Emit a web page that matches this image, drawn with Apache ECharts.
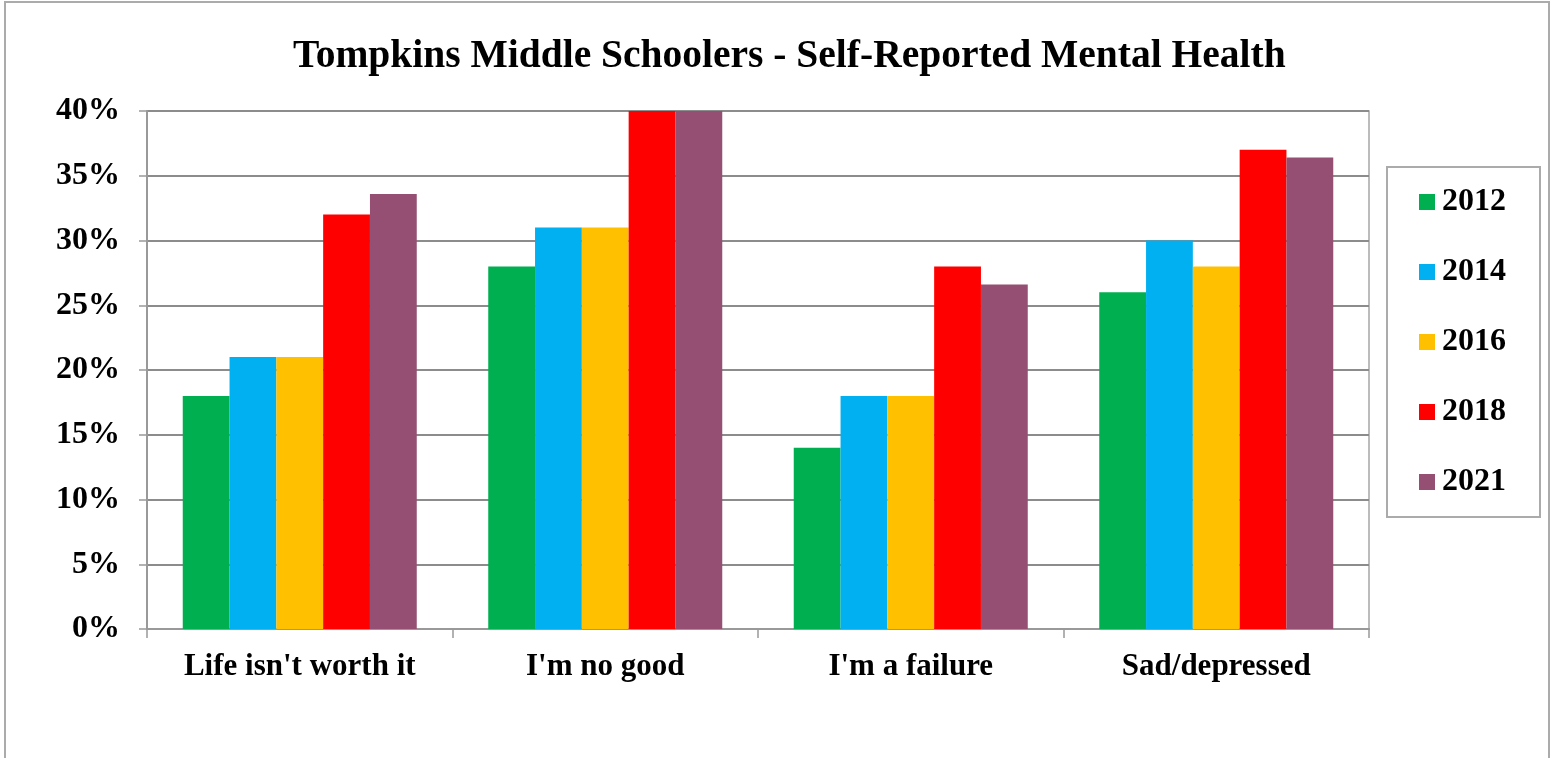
<!DOCTYPE html>
<html>
<head>
<meta charset="utf-8">
<script src="https://cdn.jsdelivr.net/npm/echarts@6/dist/echarts.min.js"></script>
<style>
html,body{margin:0;padding:0;background:#fff;}
#c{width:1554px;height:758px;}
</style>
</head>
<body>
<div id="c"></div>
<script>
var titleText = 'Tompkins Middle Schoolers - Self-Reported Mental Health';
var categories = ["Life isn't worth it", "I'm no good", "I'm a failure", "Sad/depressed"];
var seriesNames = ['2012', '2014', '2016', '2018', '2021'];
var v2012 = [18, 28, 14, 26];
var v2014 = [21, 31, 18, 30];
var v2016 = [21, 31, 18, 28];
var v2018 = [32, 40, 28, 37];
var v2021 = [33.6, 40, 26.6, 36.4];
var yTicks = [0, 5, 10, 15, 20, 25, 30, 35, 40];
var colors = ['#00b050', '#00b0f0', '#ffc000', '#ff0000', '#954f72'];

var allValues = [v2012, v2014, v2016, v2018, v2021];
var FONT = 'Liberation Serif';

var chart = echarts.init(document.getElementById('c'), null, {renderer: 'canvas'});
chart.setOption({
  animation: false,
  backgroundColor: '#fff',
  color: colors,
  graphic: [{
    type: 'rect',
    shape: {x: 5, y: 2, width: 1544, height: 820},
    style: {fill: 'none', stroke: '#ababab', lineWidth: 2},
    silent: true
  }],
  title: {
    text: titleText,
    left: 288,
    top: 32,
    textStyle: {fontFamily: FONT, fontWeight: 'bold', fontSize: 39.5, color: '#000'}
  },
  legend: {
    orient: 'vertical',
    left: 1387,
    top: 167,
    padding: [19, 34, 19, 32],
    itemGap: 38,
    itemWidth: 16,
    itemHeight: 16,
    icon: 'rect',
    borderColor: '#ababab',
    borderWidth: 2,
    textStyle: {fontFamily: FONT, fontWeight: 'bold', fontSize: 32, color: '#000', lineHeight: 30, padding: [0, 0, 0, 2]},
    data: seriesNames
  },
  grid: {
    left: 147, right: 185, top: 111, bottom: 129,
    show: true, borderColor: '#a6a6a6', borderWidth: 1.5
  },
  xAxis: {
    type: 'category',
    data: categories,
    axisLine: {lineStyle: {color: '#999', width: 2}},
    axisTick: {show: true, length: 9, lineStyle: {color: '#999', width: 1.5}},
    axisLabel: {interval: 0, fontFamily: FONT, fontWeight: 'bold', fontSize: 31, color: '#000', margin: 22}
  },
  yAxis: {
    type: 'value',
    min: 0, max: 40, interval: 5,
    axisLine: {show: true, lineStyle: {color: '#999', width: 2}},
    axisTick: {show: true, length: 8, lineStyle: {color: '#999', width: 1.5}},
    axisLabel: {fontFamily: FONT, fontWeight: 'bold', fontSize: 32, color: '#000', margin: 27,
      formatter: function (v) { return yTicks.indexOf(v) >= 0 ? v + '%' : ''; }},
    splitLine: {lineStyle: {color: '#8c8c8c', width: 2}}
  },
  series: seriesNames.map(function (n, i) {
    return {
      name: n, type: 'bar', data: allValues[i],
      barGap: '0%', barCategoryGap: '23.4%',
      itemStyle: {color: colors[i]}
    };
  })
});
</script>
</body>
</html>
